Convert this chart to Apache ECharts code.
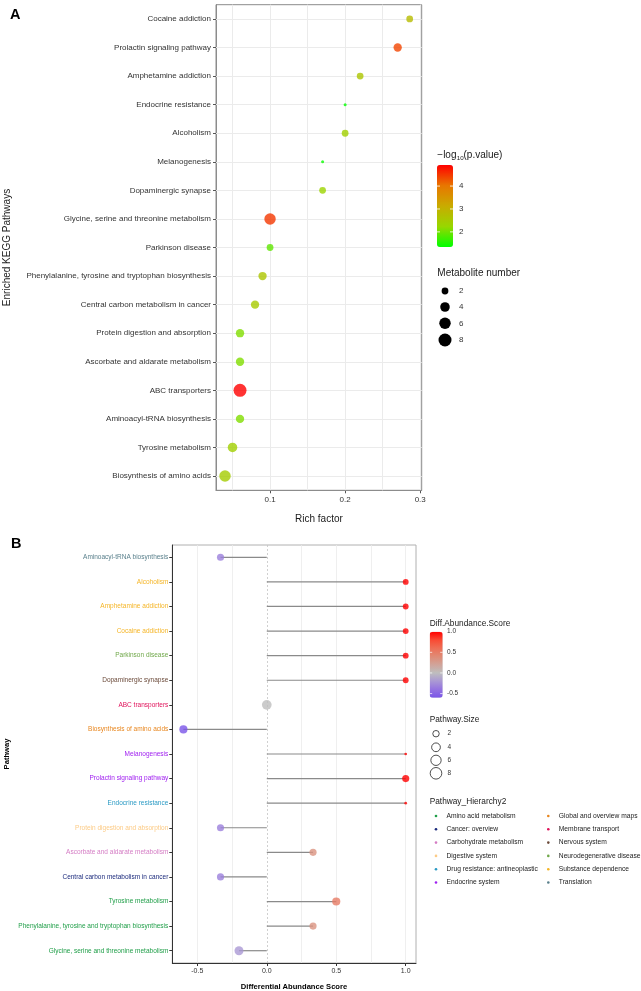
<!DOCTYPE html>
<html>
<head>
<meta charset="utf-8">
<script src="https://cdn.jsdelivr.net/npm/echarts@6/dist/echarts.min.js"></script>
<style>
html,body{margin:0;padding:0;background:#fff}
#chart{width:641px;height:991px}
</style>
</head>
<body>
<div id="chart"></div>
<script>
// ---- panel A : KEGG enrichment (top to bottom)
const keggPathways = ['Cocaine addiction','Prolactin signaling pathway','Amphetamine addiction','Endocrine resistance',
  'Alcoholism','Melanogenesis','Dopaminergic synapse','Glycine, serine and threonine metabolism','Parkinson disease',
  'Phenylalanine, tyrosine and tryptophan biosynthesis','Central carbon metabolism in cancer','Protein digestion and absorption',
  'Ascorbate and aldarate metabolism','ABC transporters','Aminoacyl-tRNA biosynthesis','Tyrosine metabolism','Biosynthesis of amino acids'];
const richFactor = [0.286,0.27,0.22,0.2,0.2,0.17,0.17,0.1,0.1,0.09,0.08,0.06,0.06,0.06,0.06,0.05,0.04];
const negLogP = [2.8,4.4,2.6,1.35,2.4,1.4,2.3,4.5,1.9,2.6,2.5,2.1,2.1,4.92,2.1,2.4,2.45];
const metaboliteNum = [2,3,2,1,2,1,2,6,2,3,3,3,3,8,3,4,6];
const richTicks = [0.1,0.2,0.3];
const richGrid = [0.05,0.1,0.15,0.2,0.25,0.3];
const pTicks = [2,3,4];
const sizeTicks = [2,4,6,8];

// ---- panel B : differential abundance (top to bottom)
const daPathways = ['Aminoacyl-tRNA biosynthesis','Alcoholism','Amphetamine addiction','Cocaine addiction','Parkinson disease',
  'Dopaminergic synapse','ABC transporters','Biosynthesis of amino acids','Melanogenesis','Prolactin signaling pathway',
  'Endocrine resistance','Protein digestion and absorption','Ascorbate and aldarate metabolism','Central carbon metabolism in cancer',
  'Tyrosine metabolism','Phenylalanine, tyrosine and tryptophan biosynthesis','Glycine, serine and threonine metabolism'];
const daScore = [-0.333,1,1,1,1,1,0,-0.6,1,1,1,-0.333,0.333,-0.333,0.5,0.333,-0.2];
const daSize = [3,2,2,2,2,2,6,4,1,3,1,3,3,3,4,3,5];
const daGroup = ['Translation','Substance dependence','Substance dependence','Substance dependence','Neurodegenerative disease',
  'Nervous system','Membrane transport','Global and overview maps','Endocrine system','Endocrine system',
  'Drug resistance: antineoplastic','Digestive system','Carbohydrate metabolism','Cancer: overview',
  'Amino acid metabolism','Amino acid metabolism','Amino acid metabolism'];
const daTicks = [-0.5,0,0.5,1];
const daGrid = [-0.5,-0.25,0.25,0.5,0.75,1];
const scoreTicks = [1,0.5,0,-0.5];
const groupNames = ['Amino acid metabolism','Cancer: overview','Carbohydrate metabolism','Digestive system',
  'Drug resistance: antineoplastic','Endocrine system','Global and overview maps','Membrane transport',
  'Nervous system','Neurodegenerative disease','Substance dependence','Translation'];
const groupColors = ['#1f9e48','#1b2a7c','#d47cc4','#fccb86','#2a9ac4','#a020f0','#e8861e','#e0125a',
  '#6b4a3a','#70a84a','#f5b526','#5a808c'];

const FONT = '"Liberation Sans", Arial, sans-serif';
const pColors = ['#00ff00','#98d700','#c9ab00','#e87600','#ff0000'];
const scoreColors = ['#7a55e8','#9473e0','#aa98d4','#bebebe','#d0a49a','#e08a75','#ee6e55','#f94a33','#ff0000'];
const pMin = 1.34, pMax = 4.92, sMin = -0.6, sMax = 1.0;

function sizeA(n){ return 3 + 10*Math.sqrt((n-1)/7); }
function sizeB(n){ return 2.7 + 8.3*Math.sqrt((n-1)/7); }
function groupColor(name){ return groupColors[groupNames.indexOf(name)]; }

let myChart = echarts.init(document.getElementById('chart'), null, {renderer:'canvas'});

// legend bits (positions of the legend boxes)
const barA = {x:437, y:165, w:16, h:82};
const barB = {x:429.7, y:631.7, w:13, h:66};
let gfx = [];
function txt(x,y,s,size,opt){
  opt = opt || {};
  gfx.push({type:'text', x:x, y:y, rotation:opt.rot||0, silent:true,
    style:{text:s, fill:opt.color||'#1a1a1a', font:(opt.bold?'bold ':'')+size+'px '+FONT,
      textAlign:opt.align||'left', textVerticalAlign:opt.va||'middle'}});
}
txt(10,15,'A',14.5,{bold:true,color:'#000'});
txt(11,544,'B',14.5,{bold:true,color:'#000'});
txt(7.5,247.5,'Enriched KEGG Pathways',10,{rot:Math.PI/2,align:'center'});
txt(318.9,519,'Rich factor',10,{align:'center'});
txt(7,754,'Pathway',7.6,{rot:Math.PI/2,align:'center',bold:true,color:'#000'});
txt(294,987,'Differential Abundance Score',7.6,{align:'center',bold:true,color:'#000'});

// A legend
txt(437.3,155,'\u2212log',10);
txt(456.8,158.5,'10',6.2);
txt(463.5,155,'(p.value)',10);
pTicks.forEach(v=>{
  let y = barA.y + (pMax-v)/(pMax-pMin)*barA.h;
  txt(459,y,String(v),8,{color:'#333'});
  gfx.push({type:'line',silent:true,z:100,shape:{x1:barA.x,y1:y,x2:barA.x+3,y2:y},style:{stroke:'#fff',lineWidth:0.8}});
  gfx.push({type:'line',silent:true,z:100,shape:{x1:barA.x+barA.w-3,y1:y,x2:barA.x+barA.w,y2:y},style:{stroke:'#fff',lineWidth:0.8}});
});
txt(437.3,273,'Metabolite number',10);
sizeTicks.forEach((n,i)=>{
  let y = [291,307,323.3,340][i];
  gfx.push({type:'circle',silent:true,shape:{cx:445,cy:y,r:sizeA(n)/2},style:{fill:'#000'}});
  txt(459,y,String(n),8,{color:'#333'});
});

// B legend
txt(429.7,624,'Diff.Abundance.Score',8.3);
scoreTicks.forEach(v=>{
  let y = barB.y + (sMax-v)/(sMax-sMin)*barB.h;
  txt(447,y,v.toFixed(1),6.5,{color:'#333'});
  gfx.push({type:'line',silent:true,z:100,shape:{x1:barB.x,y1:y,x2:barB.x+2.5,y2:y},style:{stroke:'#fff',lineWidth:0.7}});
  gfx.push({type:'line',silent:true,z:100,shape:{x1:barB.x+barB.w-2.5,y1:y,x2:barB.x+barB.w,y2:y},style:{stroke:'#fff',lineWidth:0.7}});
});
txt(429.7,719.3,'Pathway.Size',8.3);
sizeTicks.forEach((n,i)=>{
  let y = [733.7,747.3,760.3,773.3][i];
  gfx.push({type:'circle',silent:true,shape:{cx:436,cy:y,r:sizeB(n)/2+0.3},style:{fill:'#fff',stroke:'#222',lineWidth:0.8}});
  txt(447.5,y,String(n),6.5,{color:'#333'});
});
txt(429.7,801.7,'Pathway_Hierarchy2',8.3);
groupNames.forEach((g,i)=>{
  let col = i<6 ? 0 : 1, row = i%6;
  let y = 816 + row*13.3;
  let dx = col ? 548.3 : 436;
  gfx.push({type:'circle',silent:true,shape:{cx:dx,cy:y,r:1.3},style:{fill:groupColors[i]}});
  txt(dx+10.5,y,g,6.7,{color:'#222'});
});

myChart.setOption({
  animation:false,
  textStyle:{fontFamily:FONT},
  grid:[
    {left:216, top:4.7, width:205.7, height:485.6, show:true, borderColor:'#8c8c8c', borderWidth:1},
    {left:172.3, top:545, width:243.7, height:418, show:true, borderColor:'#b0b0b0', borderWidth:1}
  ],
  xAxis:[
    {gridIndex:0, type:'value', min:0.028, max:0.302,
      axisLine:{show:true, onZero:false, lineStyle:{color:'#8c8c8c'}},
      axisTick:{show:true, customValues:richTicks, length:3, lineStyle:{color:'#555'}},
      axisLabel:{customValues:richTicks, formatter:v=>v.toFixed(1), fontSize:8, color:'#333', margin:5},
      splitLine:{show:false}},
    {gridIndex:1, type:'value', min:-0.68, max:1.074,
      axisLine:{show:true, onZero:false, lineStyle:{color:'#333'}},
      axisTick:{show:true, customValues:daTicks, length:3, lineStyle:{color:'#333'}},
      axisLabel:{customValues:daTicks, formatter:v=>v.toFixed(1), fontSize:7, color:'#333', margin:5},
      splitLine:{show:false}}
  ],
  yAxis:[
    {gridIndex:0, type:'category', data:keggPathways, inverse:true,
      axisLine:{show:true, onZero:false, lineStyle:{color:'#8c8c8c'}},
      axisTick:{show:true, alignWithLabel:true, length:3, lineStyle:{color:'#555'}},
      axisLabel:{fontSize:8, color:'#333', margin:5},
      splitLine:{show:false}},
    {gridIndex:1, type:'category', data:daPathways, inverse:true,
      axisLine:{show:true, onZero:false, lineStyle:{color:'#333'}},
      axisTick:{show:true, alignWithLabel:true, length:3, lineStyle:{color:'#333'}},
      axisLabel:{fontSize:6.5, margin:4, color:(v,i)=>groupColor(daGroup[i])},
      splitLine:{show:false}}
  ],
  visualMap:[
    {type:'continuous', seriesIndex:1, dimension:3, min:pMin, max:pMax, inRange:{color:pColors},
      show:true, calculable:false, left:barA.x, top:barA.y, itemWidth:barA.w, itemHeight:barA.h, padding:0, text:null, hoverLink:false},
    {type:'continuous', seriesIndex:4, dimension:0, min:sMin, max:sMax, inRange:{color:scoreColors},
      show:true, calculable:false, left:barB.x, top:barB.y, itemWidth:barB.w, itemHeight:barB.h, padding:0, text:null, hoverLink:false}
  ],
  series:[
    {type:'line', xAxisIndex:0, yAxisIndex:0, data:[], z:1, silent:true,
      markLine:{symbol:'none', silent:true, z:1, label:{show:false}, animation:false,
        lineStyle:{color:'#ebebeb', width:1, type:'solid'},
        data:[...richGrid.map(v=>({xAxis:v})), ...keggPathways.map((p,i)=>({yAxis:i}))]}},
    {type:'scatter', xAxisIndex:0, yAxisIndex:0, z:10,
      data:keggPathways.map((p,i)=>[richFactor[i], i, metaboliteNum[i], negLogP[i]]),
      symbolSize:d=>sizeA(d[2])},
    {type:'line', xAxisIndex:1, yAxisIndex:1, data:[], z:1, silent:true,
      markLine:{symbol:'none', silent:true, z:1, label:{show:false}, animation:false,
        data:[...daGrid.map(v=>({xAxis:v, lineStyle:{color:'#ebebeb', width:0.8, type:'solid'}})),
          {xAxis:0, lineStyle:{color:'#c4c4c4', width:0.8, type:[2,2]}}]}},
    {type:'bar', xAxisIndex:1, yAxisIndex:1, z:3, silent:true, barWidth:1.2,
      itemStyle:{color:'#8a8a8a'}, data:daScore},
    {type:'scatter', xAxisIndex:1, yAxisIndex:1, z:10,
      data:daPathways.map((p,i)=>[daScore[i], i, daSize[i]]),
      symbolSize:d=>sizeB(d[2])}
  ],
  graphic:gfx
});
</script>
</body>
</html>
